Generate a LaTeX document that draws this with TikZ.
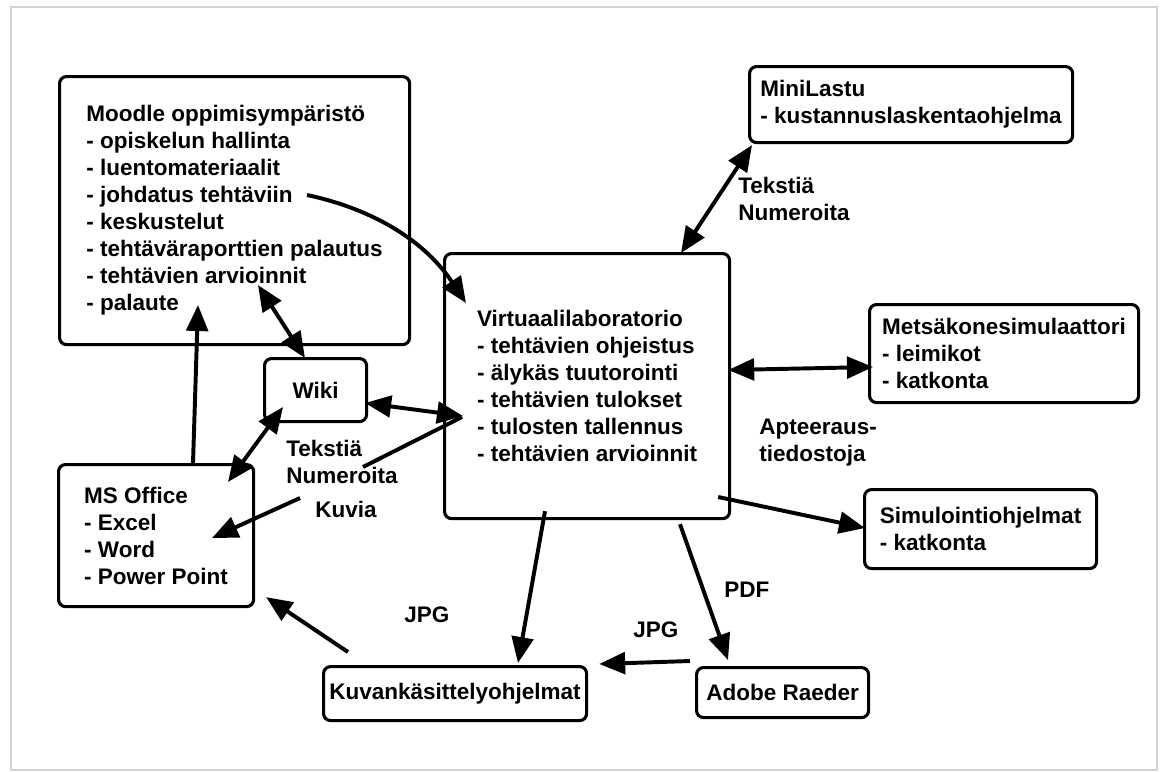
\documentclass[tikz,border=0pt]{standalone}
\usepackage{fontspec}
\setmainfont{Liberation Sans}
\usetikzlibrary{arrows.meta, positioning, calc}
\definecolor{frgrey}{HTML}{D4D4D4}

\begin{document}
\begin{tikzpicture}[x=0.025cm, y=-0.025cm,
    font=\fontsize{16}{19.2}\selectfont\bfseries,
    >={Triangle[length=6.5mm,width=5.4mm]},
    box/.style={draw, line width=2.2pt, rounded corners=5pt, align=left, anchor=north west, inner sep=0pt},
    arr/.style={line width=2.8pt, ->},
    darr/.style={line width=2.8pt, <->},
    lbl/.style={align=left, inner sep=0pt}]
  % frame
  \useasboundingbox (0,0) rectangle (1161,771);
  \draw[frgrey, line width=1.5pt] (11,7) rectangle (1157,770);
  % boxes
  \node[box, minimum width=8.75cm, minimum height=6.7cm] (moodle) at (58,75)
    {Moodle oppimisympäristö\\- opiskelun hallinta\\- luentomateriaalit\\- johdatus tehtäviin\\- keskustelut\\- tehtäväraporttien palautus\\- tehtävien arvioinnit\\- palaute};
  \node[box, minimum width=2.55cm, minimum height=1.575cm] (wiki) at (263,357) {Wiki};
  \node[box, minimum width=4.875cm, minimum height=3.55cm] (msoff) at (57,463)
    {MS Office\\- Excel\\- Word\\- Power Point};
  \node[box, minimum width=7.125cm, minimum height=6.625cm] (virt) at (443,252)
    {Virtuaalilaboratorio\\- tehtävien ohjeistus\\- älykäs tuutorointi\\- tehtävien tulokset\\- tulosten tallennus\\- tehtävien arvioinnit};
  \node[box, minimum width=8.075cm, minimum height=1.9cm] (mini) at (748,65)
    {MiniLastu\\- kustannuslaskentaohjelma};
  \node[box, minimum width=6.725cm, minimum height=2.45cm] (metsa) at (868,303)
    {Metsäkonesimulaattori\\- leimikot\\- katkonta};
  \node[box, minimum width=5.8cm, minimum height=1.975cm] (simu) at (863,488)
    {Simulointiohjelmat\\- katkonta};
  \node[box, minimum width=6.575cm, minimum height=1.35cm] (kuva) at (322,665) {Kuvankäsittelyohjelmat};
  \node[box, minimum width=4.3cm, minimum height=1.25cm] (adobe) at (695,666) {Adobe Raeder};
  % labels
  \node[lbl, anchor=west] (tekA) at (286,462) {Tekstiä\\Numeroita};
  \node[lbl, anchor=base west] (kuvia) at (315,517) {Kuvia};
  \node[lbl, anchor=west] (tekB) at (738,199) {Tekstiä\\Numeroita};
  \node[lbl, anchor=west] (apt) at (759,443) {Apteeraus-\\tiedostoja};
  \node[lbl, anchor=base west] (jpgA) at (404,622) {JPG};
  \node[lbl, anchor=base west] (jpgB) at (633,637) {JPG};
  \node[lbl, anchor=base west] (pdf) at (724,597) {PDF};
  % connectors
  \draw[arr] ($(moodle.north west)+(249,120)$) .. controls +(70,15) and +(-40,-60) .. ($(virt.north west)+(23,51)$);
  \draw[darr] ($(moodle.north west)+(200,210)$) -- ($(wiki.north west)+(42,1)$);
  \draw[darr] ($(wiki.north east)+(-3,46)$) -- ($(virt.north west)+(20,164)$);
  \draw[darr] ($(wiki.north west)+(20,50)$) -- ($(msoff.north west)+(171,19)$);
  \coordinate (tk1) at (363,467);
  \coordinate (tk2) at (300,498);
  \draw[line width=2.8pt] ($(virt.north west)+(19,165)$) -- (tk1);
  \draw[arr] (tk2) -- ($(msoff.north west)+(155,75)$);
  \draw[arr] ($(msoff.north west)+(136,0)$) -- ($(moodle.north west)+(140,230)$);
  \draw[darr] ($(virt.north west)+(238,1)$) -- ($(mini.south west)+(4,1)$);
  \draw[darr] ($(virt.north east)+(-3,118)$) -- ($(metsa.north west)+(5,64)$);
  \draw[arr] ($(virt.north east)+(-13,245)$) -- ($(simu.north west)+(2,40)$);
  \draw[arr] ($(virt.south west)+(102,-9)$) -- ($(kuva.north west)+(196,-2)$);
  \draw[arr] ($(virt.south west)+(237,4)$) -- ($(adobe.north west)+(33,-6)$);
  \draw[arr] ($(adobe.north west)+(-5,-5)$) -- ($(kuva.north east)+(11,-1)$);
  \draw[arr] ($(kuva.north west)+(26,-13)$) -- ($(msoff.south east)+(11,-11)$);
\end{tikzpicture}
\end{document}
